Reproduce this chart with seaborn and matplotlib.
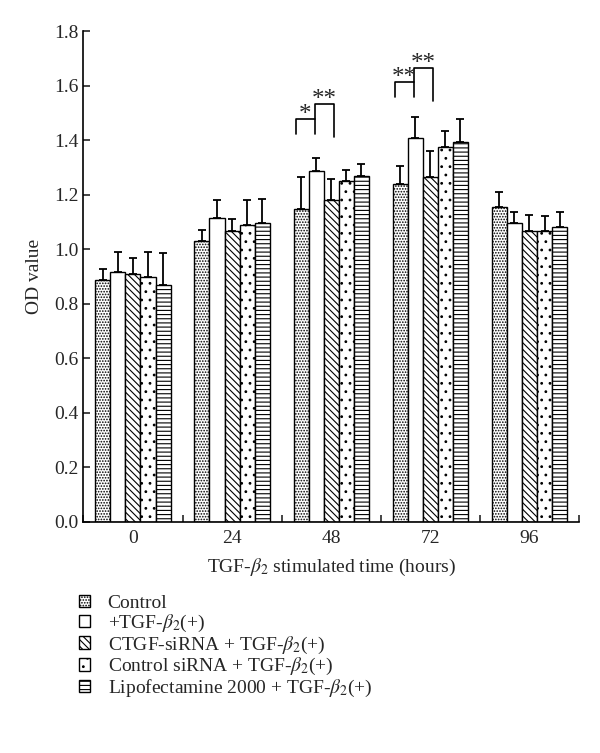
import numpy as np
import pandas as pd
import matplotlib
matplotlib.use("Agg")
import matplotlib.pyplot as plt
from matplotlib.patches import Patch
import seaborn as sns

sns.set_theme(style="ticks")
plt.rcParams["font.family"] = ["Liberation Serif", "DejaVu Serif"]
plt.rcParams["mathtext.fontset"] = "stix"
plt.rcParams["hatch.linewidth"] = 0.8
plt.rcParams["hatch.color"] = "black"

# data
hours = ["0", "24", "48", "72", "96"]
groups = [
    "Control",
    "+TGF-$\\beta_2$(+)",
    "CTGF-siRNA + TGF-$\\beta_2$(+)",
    "Control siRNA + TGF-$\\beta_2$(+)",
    "Lipofectamine 2000 + TGF-$\\beta_2$(+)",
]
control = [0.886, 1.030, 1.149, 1.240, 1.155]
tgf = [0.916, 1.115, 1.285, 1.408, 1.095]
ctgf_sirna = [0.911, 1.065, 1.182, 1.265, 1.065]
ctrl_sirna = [0.900, 1.090, 1.250, 1.373, 1.065]
lipo = [0.868, 1.095, 1.269, 1.394, 1.080]

control_top = [0.928, 1.070, 1.263, 1.305, 1.210]
tgf_top = [0.990, 1.180, 1.334, 1.485, 1.135]
ctgf_sirna_top = [0.967, 1.110, 1.258, 1.360, 1.125]
ctrl_sirna_top = [0.990, 1.180, 1.290, 1.434, 1.120]
lipo_top = [0.987, 1.185, 1.312, 1.477, 1.135]

# significance brackets at 48 h and 72 h
sig_hour = [2, 3]
sig_low_left = [1.424, 1.557]
sig_first = [1.479, 1.612]
sig_second = [1.534, 1.664]
sig_low_right = [1.413, 1.544]
sig_first_label = ["*", "**"]
sig_second_label = ["**", "**"]

means = [control, tgf, ctgf_sirna, ctrl_sirna, lipo]
tops = [control_top, tgf_top, ctgf_sirna_top, ctrl_sirna_top, lipo_top]
hatches = ["......", "", "\\\\\\\\\\", "..", "----"]

df = pd.DataFrame({
    "hour": np.tile(hours, len(groups)),
    "group": np.repeat(groups, len(hours)),
    "od": np.concatenate(means),
})

fig = plt.figure(figsize=(6, 7.53), dpi=100)
ax = fig.add_axes([0.139, 0.3068, 0.826, 0.652])

sns.barplot(
    data=df, x="hour", y="od", hue="group",
    order=hours, hue_order=groups,
    palette=["white"] * len(groups),
    edgecolor="black", linewidth=1.0,
    width=0.76, errorbar=None, legend=False, ax=ax,
)

centers = []
for cont, hatch, m, t in zip(ax.containers, hatches, means, tops):
    xs = []
    for bar in cont:
        bar.set_hatch(hatch)
        bar.set_facecolor("white")
        xs.append(bar.get_x() + bar.get_width() / 2)
    xs = np.array(xs)
    centers.append(xs)
    up = np.array(t) - np.array(m)
    ax.errorbar(xs, m, yerr=[np.zeros_like(up), up], fmt="none",
                ecolor="black", elinewidth=1.3, capsize=3, capthick=1.3,
                zorder=1)

bw = ax.containers[0][0].get_width()
for k, h in enumerate(sig_hour):
    x0 = centers[0][h] - 0.36 * bw
    x1 = centers[1][h] - 0.08 * bw
    x2 = centers[2][h] + 0.2 * bw
    ax.plot([x0, x0, x1, x1], [sig_low_left[k], sig_first[k], sig_first[k], sig_low_left[k]],
            color="black", lw=1.2)
    ax.plot([x1, x1, x2, x2], [sig_first[k], sig_second[k], sig_second[k], sig_low_right[k]],
            color="black", lw=1.2)
    ax.text((x0 + x1) / 2, sig_first[k] - 0.008, sig_first_label[k],
            ha="center", va="baseline", fontsize=18)
    ax.text((x1 + x2) / 2, sig_second[k] - 0.008, sig_second_label[k],
            ha="center", va="baseline", fontsize=18)

ax.set_xlim(-0.5, 4.5)
ax.set_ylim(0, 1.8)
ax.set_yticks(np.arange(0, 1.81, 0.2))
ax.set_yticklabels([f"{v:.1f}" for v in np.arange(0, 1.81, 0.2)])
ax.set_xticks(np.arange(-0.5, 4.6, 1.0), minor=True)
ax.tick_params(axis="x", which="major", length=0, labelsize=14, pad=6)
ax.tick_params(axis="x", which="minor", direction="in", length=5, width=1.2)
ax.tick_params(axis="y", direction="in", length=5, width=1.2, labelsize=14)
ax.set_ylabel("OD value", fontsize=14, labelpad=8)
ax.set_xlabel("TGF-$\\beta_2$ stimulated time (hours)", fontsize=14, labelpad=7)
sns.despine(ax=ax)
for s in ["left", "bottom"]:
    ax.spines[s].set_linewidth(1.2)
    ax.spines[s].set_color("black")

handles = [Patch(facecolor="white", edgecolor="black", hatch=h, linewidth=1.0) for h in hatches]
fig.legend(handles, groups, loc="upper left", bbox_to_anchor=(0.118, 0.22),
           frameon=False, fontsize=14, handlelength=0.6, handleheight=0.6,
           handletextpad=0.9, labelspacing=0.03, borderaxespad=0)

fig.savefig("out.png", dpi=100)
